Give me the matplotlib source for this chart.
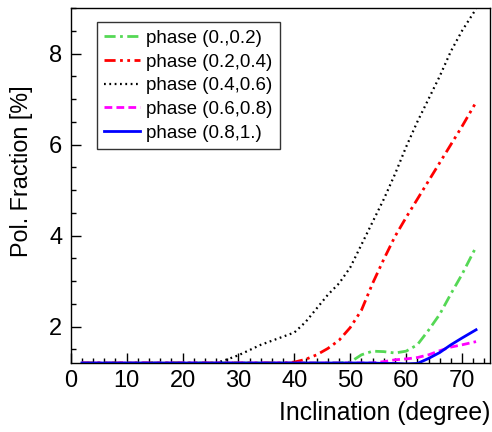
import numpy as np
import matplotlib
matplotlib.use("Agg")
import matplotlib.pyplot as plt
from matplotlib.ticker import MultipleLocator

plt.rcParams['font.family'] = ['Liberation Sans', 'DejaVu Sans']

# the data
incl = [2, 10, 20, 26, 28, 30, 34, 38, 40, 42, 44, 46, 48, 50, 52, 54, 56, 58,
        60, 62, 64, 66, 68, 70, 72.5]
ph_00_02 = [1.2, 1.2, 1.2, 1.2, 1.2, 1.2, 1.2, 1.2, 1.2, 1.2, 1.2, 1.2, 1.2, 1.22,
            1.38, 1.46, 1.45, 1.42, 1.46, 1.6, 1.92, 2.27, 2.72, 3.15, 3.75]
ph_02_04 = [1.2, 1.2, 1.2, 1.2, 1.2, 1.2, 1.2, 1.2, 1.22, 1.28, 1.38, 1.52, 1.7, 1.98,
            2.36, 2.95, 3.48, 3.98, 4.4, 4.8, 5.2, 5.6, 6.0, 6.4, 6.93]
ph_04_06 = [1.2, 1.2, 1.2, 1.2, 1.28, 1.37, 1.6, 1.78, 1.87, 2.1, 2.4, 2.7, 2.95, 3.3,
            3.8, 4.3, 4.8, 5.35, 5.95, 6.5, 7.0, 7.5, 8.05, 8.5, 8.98]
ph_06_08 = [1.2, 1.2, 1.2, 1.2, 1.2, 1.2, 1.2, 1.2, 1.2, 1.2, 1.2, 1.2, 1.2, 1.2,
            1.2, 1.2, 1.23, 1.27, 1.29, 1.32, 1.38, 1.47, 1.55, 1.6, 1.67]
ph_08_10 = [1.2, 1.2, 1.2, 1.2, 1.2, 1.2, 1.2, 1.2, 1.2, 1.2, 1.2, 1.2, 1.2, 1.2,
            1.2, 1.2, 1.19, 1.19, 1.18, 1.19, 1.3, 1.43, 1.6, 1.75, 1.93]
labels = ['phase (0.,0.2)', 'phase (0.2,0.4)', 'phase (0.4,0.6)',
          'phase (0.6,0.8)', 'phase (0.8,1.)']

fig = plt.figure(figsize=(4.92, 4.32), dpi=100)
ax = fig.add_axes([0.1437, 0.1597, 0.8523, 0.8218])

ax.plot(incl, ph_00_02, color='#55d855', lw=2, dashes=(4, 1.6, 1, 1.6), label=labels[0])
ax.plot(incl, ph_02_04, color='#ff0000', lw=2, dashes=(4, 1.6, 1, 1.6, 1, 1.6), label=labels[1])
ax.plot(incl, ph_04_06, color='black', lw=1.6, dashes=(0.8, 1.6), label=labels[2])
ax.plot(incl, ph_06_08, color='#ff00ff', lw=2, dashes=(2.8, 1.5), label=labels[3])
ax.plot(incl, ph_08_10, color='#0000ff', lw=2, label=labels[4])

ax.set_xlim(0, 75)
ax.set_ylim(1.2, 9.0)
ax.xaxis.set_major_locator(MultipleLocator(10))
ax.xaxis.set_minor_locator(MultipleLocator(2))
ax.yaxis.set_major_locator(MultipleLocator(2))
ax.yaxis.set_minor_locator(MultipleLocator(0.5))
ax.tick_params(which='both', direction='in', top=False, right=False,
               labelsize=17, width=1)
ax.tick_params(which='major', length=7)
ax.tick_params(which='minor', length=3.5)
ax.tick_params(axis='x', pad=5)
ax.tick_params(axis='y', pad=6)
for s in ax.spines.values():
    s.set_linewidth(1)

fig.text(490/492, 1 - 413/432, 'Inclination (degree)', fontsize=17.8,
         ha='right', va='center')
fig.text(22/492, 1 - 171/432, 'Pol. Fraction [%]', fontsize=16.8,
         rotation=90, ha='center', va='center')

leg = ax.legend(loc='upper left', bbox_to_anchor=(0.062, 0.96), borderaxespad=0,
                fontsize=13.5, frameon=True, fancybox=False, handlelength=1.9,
                handletextpad=0.35, labelspacing=0.35, borderpad=0.4)
leg.get_frame().set_edgecolor('black')
leg.get_frame().set_linewidth(1)

fig.savefig('out.png', dpi=100)
